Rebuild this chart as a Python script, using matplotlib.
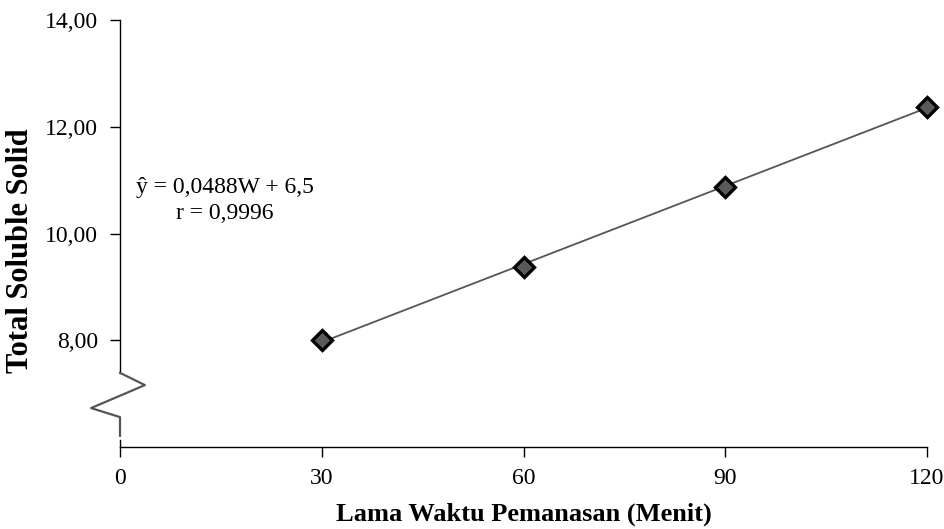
import numpy as np
import matplotlib
matplotlib.use("Agg")
import matplotlib.pyplot as plt

plt.rcParams['font.family'] = ['Liberation Serif', 'DejaVu Serif']

# lama pemanasan (menit) vs total soluble solid
waktu = [30, 60, 90, 120]
tss = [8.00, 9.38, 10.88, 12.38]
slope, intercept = 0.0488, 6.5
xticks = [0, 30, 60, 90, 120]
yticks = [8, 10, 12, 14]

fig = plt.figure(figsize=(9.45, 5.29), dpi=100)
ax = fig.add_axes([0.127, 0.155, 0.854, 0.807])

# garis regresi
xr = np.array([waktu[0], waktu[-1]])
ax.plot(xr, slope * xr + intercept, color='#555555', lw=1.3, zorder=2)
ax.plot(waktu, tss, linestyle='none', marker='D', ms=10.5, mfc='#5a5a5a',
        mec='black', mew=2.4, zorder=3, clip_on=False)

ax.set_xlim(0, 120)
ax.set_ylim(6, 14)
ax.set_xticks(xticks)
ax.set_xticklabels([str(v) for v in xticks])
ax.set_yticks(yticks)
ax.set_yticklabels([f"{v:.2f}".replace('.', ',') for v in yticks])
ax.tick_params(axis='both', direction='out', length=7, width=1, labelsize=17,
               colors='black')
ax.tick_params(axis='x', pad=8)
ax.tick_params(axis='y', pad=9)

for s in ['top', 'right', 'left']:
    ax.spines[s].set_visible(False)
ax.spines['bottom'].set_linewidth(1)

# sumbu y dengan tanda patah
ax.plot([0, 0], [14, 7.39], color='black', lw=1, clip_on=False, zorder=4)
ax.plot([0, 3.7, -4.3, 0, 0], [7.39, 7.16, 6.73, 6.56, 6.21],
        color='#555555', lw=1.6, clip_on=False, zorder=5)
ax.plot([0, 0], [6.0, 6.13], color='black', lw=1, clip_on=False)

ax.text(15.6, 10.62, "ŷ = 0,0488W + 6,5\nr = 0,9996", ha='center', va='center',
        fontsize=17, linespacing=1.33)

ax.set_xlabel("Lama Waktu Pemanasan (Menit)", fontsize=19, fontweight='bold')
ax.xaxis.set_label_coords(0.5, -0.131)
ax.set_ylabel("Total Soluble Solid", fontsize=22, fontweight='bold')
ax.yaxis.set_label_coords(-0.105, 0.461)

fig.savefig("out.png", dpi=100)
